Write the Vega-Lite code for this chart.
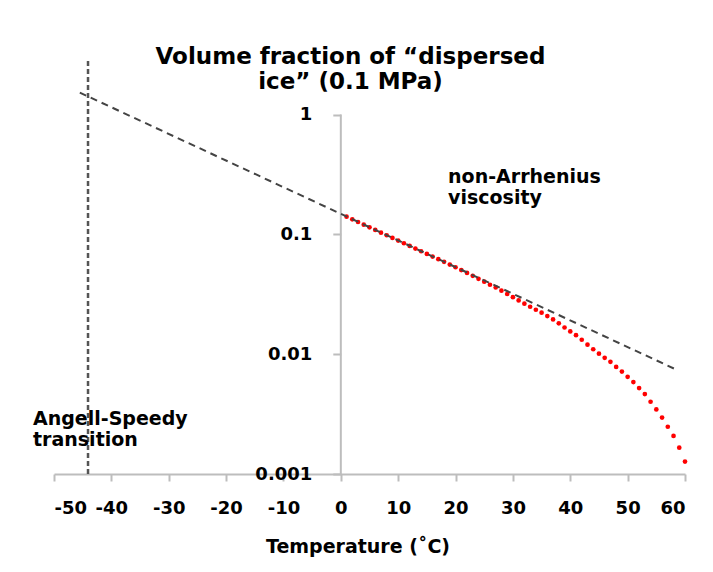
{
  "$schema": "https://vega.github.io/schema/vega-lite/v6.json",
  "width": 631,
  "height": 413,
  "autosize": {"type": "none"},
  "padding": {"left": 54, "top": 61, "right": 28, "bottom": 98},
  "background": "white",
  "config": {"view": {"stroke": null}},
  "title": {
    "text": ["Volume fraction of “dispersed", "ice” (0.1 MPa)"],
    "font": "DejaVu Sans",
    "fontWeight": "bold",
    "fontSize": 23,
    "lineHeight": 25,
    "color": "#000000",
    "anchor": "middle",
    "frame": "group",
    "dx": -19,
    "dy": 34,
    "offset": 0
  },
  "datasets": {
    "curve": [
      {"t": 1, "v": 0.1405}, {"t": 2, "v": 0.1335}, {"t": 3, "v": 0.1269}, {"t": 4, "v": 0.1206},
      {"t": 5, "v": 0.1146}, {"t": 6, "v": 0.1089}, {"t": 7, "v": 0.1034}, {"t": 8, "v": 0.0983},
      {"t": 9, "v": 0.0934}, {"t": 10, "v": 0.0887}, {"t": 11, "v": 0.0843}, {"t": 12, "v": 0.0801},
      {"t": 13, "v": 0.0761}, {"t": 14, "v": 0.0723}, {"t": 15, "v": 0.0687}, {"t": 16, "v": 0.0653},
      {"t": 17, "v": 0.0621}, {"t": 18, "v": 0.0590}, {"t": 19, "v": 0.0560}, {"t": 20, "v": 0.0532},
      {"t": 21, "v": 0.0504}, {"t": 22, "v": 0.0477}, {"t": 23, "v": 0.0451}, {"t": 24, "v": 0.0426},
      {"t": 25, "v": 0.0403}, {"t": 26, "v": 0.0380}, {"t": 27, "v": 0.0361}, {"t": 28, "v": 0.0339},
      {"t": 29, "v": 0.0318}, {"t": 30, "v": 0.0299}, {"t": 31, "v": 0.0281}, {"t": 32, "v": 0.0264},
      {"t": 33, "v": 0.0249}, {"t": 34, "v": 0.0235}, {"t": 35, "v": 0.0222}, {"t": 36, "v": 0.0208},
      {"t": 37, "v": 0.0195}, {"t": 38, "v": 0.0181}, {"t": 39, "v": 0.0167}, {"t": 40, "v": 0.0155},
      {"t": 41, "v": 0.0144}, {"t": 42, "v": 0.0132}, {"t": 43, "v": 0.0120}, {"t": 44, "v": 0.0110},
      {"t": 45, "v": 0.0101}, {"t": 46, "v": 0.00933}, {"t": 47, "v": 0.00863}, {"t": 48, "v": 0.00783},
      {"t": 49, "v": 0.00716}, {"t": 50, "v": 0.00647}, {"t": 51, "v": 0.00585}, {"t": 52, "v": 0.00521},
      {"t": 53, "v": 0.00465}, {"t": 54, "v": 0.00401}, {"t": 55, "v": 0.00346}, {"t": 56, "v": 0.00296},
      {"t": 57, "v": 0.00248}, {"t": 58, "v": 0.00208}, {"t": 59, "v": 0.00166}, {"t": 60, "v": 0.00127}
    ],
    "fit": [
      {"t": -45.5, "v": 1.525},
      {"t": 58.3, "v": 0.0075}
    ],
    "transition": [
      {"t": -44.07, "v": 0.001, "v2": 2.8}
    ],
    "yaxisline": [
      {"t": 0, "v": 0.001, "v2": 1}
    ],
    "labels": [
      {"t": 18.7, "v": 0.36, "label": ["non-Arrhenius", "viscosity"]},
      {"t": -53.66, "v": 0.0034, "label": ["Angell-Speedy", "transition"]}
    ]
  },
  "encoding": {
    "x": {
      "field": "t",
      "type": "quantitative",
      "scale": {"domain": [-50, 60], "nice": false, "zero": false},
      "axis": {
        "values": [-50, -40, -30, -20, -10, 0, 10, 20, 30, 40, 50, 60],
        "labelExpr": "toString(datum.value)",
        "labelOverlap": false,
        "grid": false,
        "domainColor": "#bdbdbd",
        "domainWidth": 2,
        "tickColor": "#bdbdbd",
        "tickWidth": 2,
        "tickSize": 7,
        "labelPadding": 18,
        "labelFont": "DejaVu Sans",
        "labelFontWeight": "bold",
        "labelFontSize": 18,
        "labelColor": "#000000",
        "title": "Temperature (˚C)",
        "titleFont": "DejaVu Sans",
        "titleFontWeight": "bold",
        "titleFontSize": 19,
        "titleColor": "#000000",
        "titleX": 303.5,
        "titleY": 78,
        "titleAlign": "center",
        "titleBaseline": "alphabetic"
      }
    },
    "y": {
      "field": "v",
      "type": "quantitative",
      "scale": {"type": "log", "domain": [0.001, 2.8], "nice": false},
      "axis": {
        "values": [0.001, 0.01, 0.1, 1],
        "format": "~g",
        "offset": -286.8,
        "domain": false,
        "grid": false,
        "labelOverlap": false,
        "tickColor": "#bdbdbd",
        "tickWidth": 2,
        "tickSize": 8,
        "labelPadding": 21,
        "labelFont": "DejaVu Sans",
        "labelFontWeight": "bold",
        "labelFontSize": 18,
        "labelColor": "#000000",
        "title": null
      }
    }
  },
  "layer": [
    {
      "data": {"name": "yaxisline"},
      "mark": {"type": "rule", "color": "#bdbdbd", "strokeWidth": 2},
      "encoding": {"y2": {"field": "v2"}}
    },
    {
      "data": {"name": "transition"},
      "mark": {"type": "rule", "color": "#555555", "strokeWidth": 2.5, "strokeDash": [5, 3]},
      "encoding": {"y2": {"field": "v2"}}
    },
    {
      "data": {"name": "curve"},
      "mark": {"type": "circle", "color": "#ff0000", "opacity": 1, "size": 22}
    },
    {
      "data": {"name": "fit"},
      "mark": {"type": "line", "color": "#444444", "strokeWidth": 2, "strokeDash": [7, 5]}
    },
    {
      "data": {"name": "labels"},
      "mark": {"type": "text", "align": "left", "baseline": "top", "font": "DejaVu Sans", "fontWeight": "bold", "fontSize": 19, "lineHeight": 21, "color": "#000000"},
      "encoding": {"text": {"field": "label"}}
    }
  ]
}
